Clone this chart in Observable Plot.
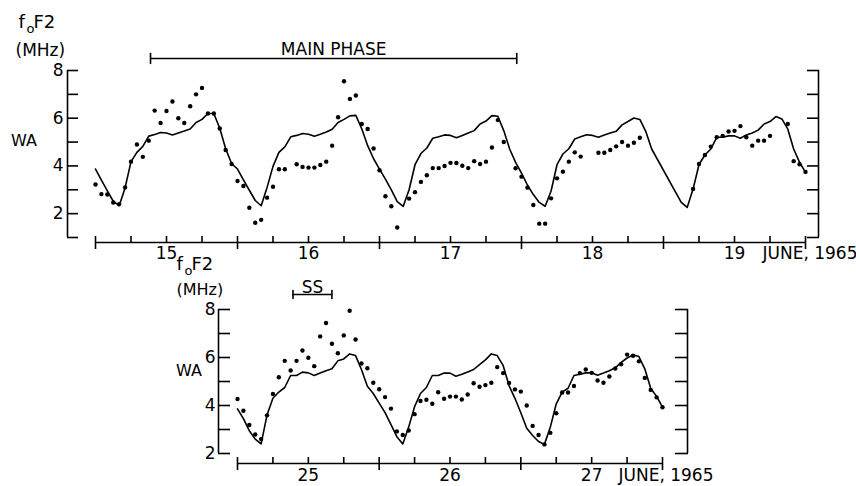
<!DOCTYPE html>
<html>
<head>
<meta charset="utf-8">
<script src="https://cdn.jsdelivr.net/npm/d3@7"></script>
<script src="https://cdn.jsdelivr.net/npm/@observablehq/plot@0.6"></script>
<style>
  html, body { margin: 0; padding: 0; background: #fff; }
  #chart { position: relative; width: 856px; height: 486px; overflow: hidden; background: #fff; }
  #chart > svg { position: absolute; left: 0; overflow: visible; }
</style>
</head>
<body>
<div id="chart"></div>
<script>
// ================= DATA =================
// y ticks (MHz)
const topYTicks = [1, 2, 3, 4, 5, 6, 7, 8];
const bottomYTicks = [2, 3, 4, 5, 6, 7, 8];
const yTickLabels = [2, 4, 6, 8];

// x ticks (hours from start of panel)
const topHourTicks = [0, 6, 12, 18, 24, 30, 36, 42, 48, 54, 60, 66, 72, 78, 84, 90, 96, 102, 108, 114, 120];
const topDayTicks = [0, 24, 48, 72, 96, 120];
const topDayLabelHours = [12, 36, 60, 84, 108];
const topDayLabels = ["15", "16", "17", "18", "19"];

const bottomHourTicks = [0, 6, 12, 18, 24, 30, 36, 42, 48, 54, 60, 66, 72];
const bottomDayTicks = [0, 24, 48, 72];
const bottomDayLabelHours = [12, 36, 60];
const bottomDayLabels = ["25", "26", "27"];

const monthLabel = ["JUNE, 1965"];
const unitLabel = ["(MHz)"];
const stationLabel = ["WA"];

const mainPhaseHours = [9.3, 71.2];
const mainPhaseLabel = ["MAIN PHASE"];
const ssHours = [9.4, 16.0];
const ssLabel = ["SS"];

// Top panel: monthly median curve (line), hourly, June 15-19 (null = no vertex)
const topMedian = [
  3.87, 3.40, 2.95, 2.52, 2.33, 3.08, 4.18, 4.57, 4.82, 5.25, 5.32, 5.40, 5.38, 5.30, 5.38, 5.46, 5.55, 5.82, 5.95, 6.20, 6.20, 5.58, 4.72, 4.10,
  3.87, 3.42, 2.98, 2.55, 2.33, 3.10, 3.98, 4.57, 4.80, 5.22, 5.28, 5.36, 5.33, 5.24, 5.33, 5.42, 5.54, 5.82, 5.95, 6.10, 6.12, 5.56, 4.85, 4.30,
  3.87, 3.45, 3.00, 2.50, 2.30, 3.00, 4.05, 4.52, 4.75, 5.16, 5.22, 5.30, 5.28, 5.18, 5.28, 5.38, 5.48, 5.76, 5.88, 6.11, 6.08, 5.48, 4.71, 4.15,
  3.70, 3.20, 2.80, 2.47, 2.31, 2.95, 4.05, 4.50, 4.72, 5.13, 5.22, 5.31, 5.28, 5.20, 5.30, 5.38, 5.45, 5.72, 5.86, 6.01, 5.95, 5.45, 4.71, null,
  null, null, null, 2.47, 2.26, 3.03, 4.06, 4.46, 4.71, 5.20, 5.20, 5.26, 5.26, 5.16, 5.30, 5.38, 5.50, 5.76, 5.86, 6.07, 5.97, 5.55, 4.71, 4.15,
  3.73
];
// Top panel: observed foF2 (dots), hourly (null = missing)
const topObserved = [
  3.22, 2.82, 2.80, 2.47, 2.40, 3.10, 4.18, 4.90, 4.38, 5.06, 6.32, 5.80, 6.30, 6.70, 6.00, 5.80, 6.50, 7.00, 7.27, 6.20, 6.20, 5.57, 4.67, 4.08,
  3.37, 3.16, 2.25, 1.62, 1.74, 2.67, 3.13, 3.86, 3.86, null, 4.07, 3.96, 3.93, 3.93, 4.04, 4.18, 4.85, 6.04, 7.55, 6.81, 6.95, 5.76, 5.55, 4.73,
  3.82, 2.73, 2.31, 1.42, null, 2.63, 2.90, 3.33, 3.61, 3.91, 3.91, 4.00, 4.13, 4.12, 4.01, 3.91, 4.20, 4.08, 4.18, 4.77, 5.92, 5.00, null, 3.90,
  3.55, 3.09, 2.36, 1.58, 1.58, 2.64, 3.48, 3.76, 4.18, 4.57, 4.39, null, null, 4.55, 4.55, 4.67, 4.82, 5.00, 4.85, 4.97, 5.18, null, null, null,
  null, null, null, null, null, 3.03, 4.08, 4.46, 4.81, 5.20, 5.26, 5.44, 5.47, 5.67, 5.20, 4.85, 5.06, 5.06, 5.26, null, null, 5.76, 4.20, 4.07,
  3.75
];

// Bottom panel: median curve, hourly, June 25-27
const bottomMedian = [
  3.86, 3.45, 2.95, 2.60, 2.40, 3.60, 4.30, 4.56, 4.75, 5.25, 5.25, 5.39, 5.36, 5.25, 5.35, 5.45, 5.53, 5.86, 5.94, 6.15, 6.08, 5.50, 4.80, 4.50,
  4.10, 3.70, 3.20, 2.70, 2.40, 3.10, 3.95, 4.50, 4.75, 5.25, 5.25, 5.35, 5.35, 5.22, 5.30, 5.40, 5.50, 5.70, 5.90, 6.15, 6.08, 5.67, 4.83, 4.30,
  3.70, 3.05, 2.75, 2.50, 2.38, 3.10, 4.07, 4.56, 4.72, 5.25, 5.30, 5.36, 5.36, 5.26, 5.35, 5.45, 5.57, 5.80, 5.98, 6.11, 6.04, 5.53, 4.72, 4.38,
  3.93
];
// Bottom panel: observed foF2 (dots)
const bottomObserved = [
  4.27, 3.78, 3.19, 2.79, 2.60, 3.59, 4.48, 5.18, 5.86, 5.46, 5.86, 6.29, 5.99, 5.64, 6.88, 7.44, 6.57, 6.18, 6.92, 7.95, 6.75, 5.75, 5.55, 4.95,
  4.68, 4.35, 3.87, 2.92, 2.77, 2.96, 3.64, 4.19, 4.24, 4.07, 4.55, 4.28, 4.37, 4.37, 4.25, 4.46, 4.93, 4.78, 4.85, 4.95, 5.60, 5.35, 4.94, 4.67,
  4.58, 4.00, 3.15, 2.77, 2.38, 2.86, 3.68, 4.54, 4.54, 4.81, 5.35, 5.50, 5.36, 5.04, 4.95, 5.21, 5.54, 5.72, 6.12, 6.07, 5.84, 5.15, 4.65, 4.34,
  3.93
];

// ================= DRAWING =================
const FONT = "DejaVu Sans, Verdana, sans-serif";
const rows = values => values.map((v, h) => ({h, v})).filter(d => d.v !== null);
const capShape = {draw(ctx, l) { ctx.moveTo(0, 0); ctx.lineTo(0, -l); }};

function textAt(m, label, x, y, opts = {}) {
  return Plot.text(label, {frameAnchor: "top-left", lineAnchor: "middle", dx: x - m.left, dy: y - m.top, text: d => d, textAnchor: "start", ...opts});
}
function foF2Label(m, x, y) {
  return [
    textAt(m, ["f"], x, y, {fontSize: 18}),
    textAt(m, ["o"], x + 8, y + 6, {fontSize: 13}),
    textAt(m, ["F2"], x + 15, y, {fontSize: 18})
  ];
}
function bracket(hours, label, yTop, lineDy, capLen, textDy) {
  return [
    Plot.ruleY([yTop], {x1: hours[0], x2: hours[1], dy: lineDy, strokeWidth: 1.6}),
    Plot.vector(hours, {x: d => d, y: yTop, dy: lineDy, length: capLen, anchor: "middle", shape: capShape, strokeWidth: 1.6}),
    Plot.text(label, {x: () => (hours[0] + hours[1]) / 2, y: yTop, dy: textDy, lineAnchor: "middle", text: d => d, fontSize: 17})
  ];
}

function panel(cfg) {
  const m = cfg.margin;
  const y0 = cfg.yTicks[0], y1 = cfg.yTicks[cfg.yTicks.length - 1];
  const x0 = cfg.xDomain[0], x1 = cfg.xDomain[1];
  return Plot.plot({
    width: 856, height: cfg.height,
    marginLeft: m.left, marginRight: m.right, marginTop: m.top, marginBottom: m.bottom,
    x: {domain: cfg.xDomain},
    y: {domain: [y0, y1]},
    style: {fontFamily: FONT, fontSize: "17px", color: "black", background: "transparent", overflow: "visible"},
    marks: [
      // left axis
      Plot.ruleX([x0], {y1: y0, y2: y1, dx: cfg.leftDx, strokeWidth: 1.6}),
      Plot.axisY(cfg.yTicks, {anchor: "left", dx: cfg.leftDx, tickSize: -cfg.leftTick, fill: "none", strokeWidth: 1.6, label: null}),
      Plot.axisY(yTickLabels, {anchor: "left", dx: cfg.leftDx, tickSize: 0, tickPadding: cfg.labelPad, stroke: "none", fontSize: 17, label: null}),
      // right axis
      Plot.ruleX([x1], {y1: y0, y2: y1, dx: cfg.rightDx, strokeWidth: 1.6}),
      Plot.axisY(cfg.yTicks, {anchor: "right", dx: cfg.rightDx, tickSize: -cfg.rightTick, fill: "none", strokeWidth: 1.6, label: null}),
      // time axis
      Plot.ruleY([y0], {dy: cfg.xAxisDy, strokeWidth: 1.6}),
      Plot.axisX(cfg.hourTicks, {anchor: "bottom", dy: cfg.xAxisDy, tickSize: -6, fill: "none", strokeWidth: 1.6, label: null}),
      Plot.axisX(cfg.dayTicks, {anchor: "bottom", dy: cfg.xAxisDy, tickSize: 7, fill: "none", strokeWidth: 1.6, label: null}),
      Plot.text(cfg.dayLabelHours, {x: d => d, frameAnchor: "bottom", lineAnchor: "middle", dy: cfg.dayLabelDy, text: (d, i) => cfg.dayLabels[i], fontSize: 17}),
      // data
      Plot.line(rows(cfg.median), {x: "h", y: "v", strokeWidth: 1.6, stroke: "black"}),
      Plot.dot(rows(cfg.observed), {x: "h", y: "v", r: 2.2, fill: "black", stroke: "none"}),
      ...cfg.extra(m, y1)
    ]
  });
}

const topMargin = {left: 95, right: 51, top: 70, bottom: 28};
const topPlot = panel({
  height: 265, margin: topMargin, xDomain: [0, 120], yTicks: topYTicks,
  leftDx: -28, leftTick: 11, rightDx: 13, rightTick: 12, labelPad: 4,
  xAxisDy: 5, hourTicks: topHourTicks, dayTicks: topDayTicks,
  dayLabelHours: topDayLabelHours, dayLabels: topDayLabels, dayLabelDy: 16,
  median: topMedian, observed: topObserved,
  extra: (m, yTop) => [
    ...foF2Label(m, 18, 22),
    textAt(m, unitLabel, 15, 50, {fontSize: 17}),
    textAt(m, stationLabel, 23.5, 140, {fontSize: 16, textAnchor: "middle"}),
    textAt(m, monthLabel, 762, 253, {fontSize: 17}),
    ...bracket(mainPhaseHours, mainPhaseLabel, yTop, -12, 10, -21)
  ]
});

const bottomMargin = {left: 237, right: 194, top: 54, bottom: 33};
const bottomPlot = panel({
  height: 231, margin: bottomMargin, xDomain: [0, 72], yTicks: bottomYTicks,
  leftDx: -19, leftTick: 12, rightDx: 25, rightTick: 13, labelPad: 3,
  xAxisDy: 10, hourTicks: bottomHourTicks, dayTicks: bottomDayTicks,
  dayLabelHours: bottomDayLabelHours, dayLabels: bottomDayLabels, dayLabelDy: 22,
  median: bottomMedian, observed: bottomObserved,
  extra: (m, yTop) => [
    ...foF2Label(m, 176, 9),
    textAt(m, unitLabel, 176, 34, {fontSize: 16}),
    textAt(m, stationLabel, 188.5, 115, {fontSize: 16, textAnchor: "middle"}),
    textAt(m, monthLabel, 618, 220, {fontSize: 17}),
    ...bracket(ssHours, ssLabel, yTop, -15, 8, -22)
  ]
});

const chart = document.getElementById("chart");
topPlot.style.top = "0px";
bottomPlot.style.top = "255px";
chart.appendChild(topPlot);
chart.appendChild(bottomPlot);
</script>
</body>
</html>
